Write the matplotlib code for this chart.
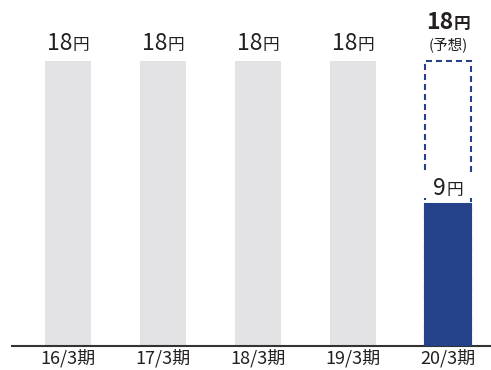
import matplotlib
matplotlib.use('Agg')
import matplotlib.pyplot as plt
from matplotlib.offsetbox import TextArea, HPacker, AnnotationBbox

plt.rcParams['font.family'] = ['Noto Sans CJK JP', 'DejaVu Sans']

periods = ['16/3期', '17/3期', '18/3期', '19/3期', '20/3期']
dividends = [18, 18, 18, 18, 9]
forecast = 18
unit = '円'

gray = '#e3e3e5'
blue = '#24418a'
ink = '#231f20'

fig = plt.figure(figsize=(4.91, 3.70), dpi=100)
ax = fig.add_axes([12 / 491, 24 / 370, 479 / 491, 346 / 370])

x = list(range(len(periods)))
w = 46 / 95
ax.bar(x[:-1], dividends[:-1], width=w, color=gray)
ax.bar(x[-1], dividends[-1], width=w, color=blue, edgecolor=blue, linewidth=1.5, zorder=3)
# forecast outline
ax.bar(x[-1], forecast, width=w, fill=False, edgecolor=blue, linewidth=1.5,
       linestyle=(0, (2.9, 1.9)), zorder=1)
# white patch behind the 9円 label
ax.bar(x[-1], 1.6, bottom=dividends[-1] + 0.35, width=w * 1.15, color='white', zorder=2)

ax.set_xlim((12 - 68) / 95, (491 - 68) / 95)
ax.set_ylim(0, 18 * 346 / 285)


def value_label(xv, yv, num, big=16.5, small=12, weight='normal'):
    t1 = TextArea(str(num), textprops=dict(fontsize=big, color=ink, weight=weight))
    t2 = TextArea(unit, textprops=dict(fontsize=small, color=ink, weight=weight))
    box = HPacker(children=[t1, t2], align='baseline', pad=0, sep=0)
    ab = AnnotationBbox(box, (xv, yv), xycoords='data', box_alignment=(0.5, 0.0),
                        frameon=False, pad=0)
    ab.set_zorder(5)
    ax.add_artist(ab)


for xi, v in zip(x[:-1], dividends[:-1]):
    value_label(xi, v + 0.4, v)

value_label(x[-1], forecast + 1.72, forecast, weight='bold')
ax.text(x[-1], forecast + 1.0, '(予想)', ha='center', va='center', fontsize=10.5, color=ink)
value_label(x[-1], dividends[-1] + 0.2, dividends[-1])

for s in ['top', 'right', 'left']:
    ax.spines[s].set_visible(False)
ax.spines['bottom'].set_color('#333333')
ax.spines['bottom'].set_linewidth(1.5)
ax.set_yticks([])
ax.set_xticks(x)
ax.set_xticklabels(periods, fontsize=13, color=ink)
ax.tick_params(axis='x', length=0, pad=2)

fig.savefig('out.png', dpi=100)
